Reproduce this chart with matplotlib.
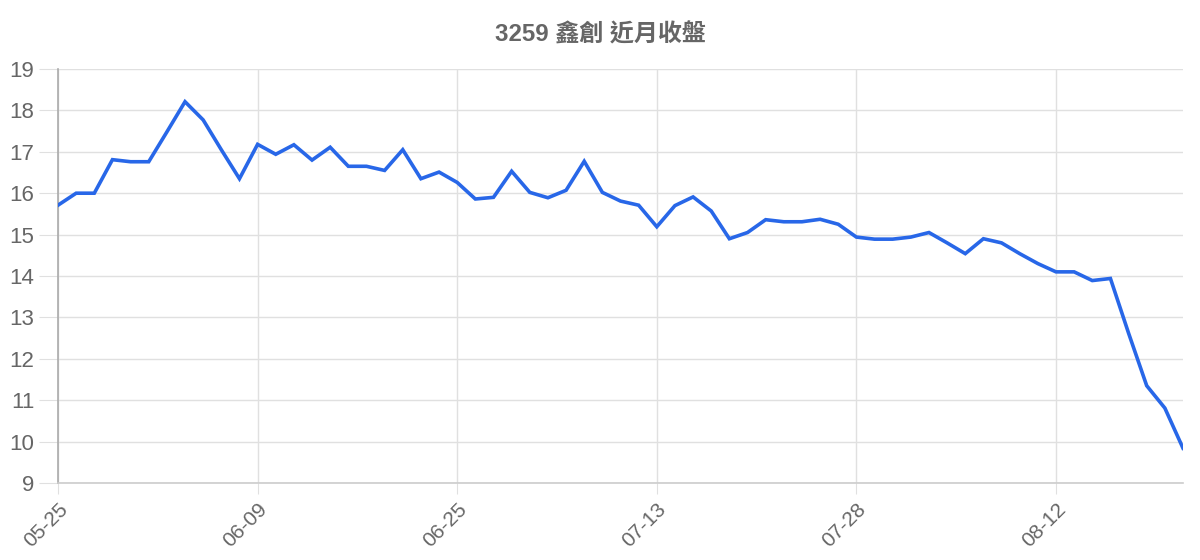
import matplotlib
matplotlib.use("Agg")
import matplotlib.pyplot as plt

title = "3259 鑫創 近月收盤"
close_prices = [
    15.71, 16.00, 16.00, 16.81, 16.76, 16.76, 17.48, 18.21, 17.77, 17.05,
    16.35, 17.18, 16.94, 17.17, 16.80, 17.11, 16.65, 16.65, 16.55, 17.05,
    16.35, 16.51, 16.26, 15.86, 15.90, 16.53, 16.02, 15.89, 16.07, 16.77,
    16.02, 15.81, 15.71, 15.19, 15.70, 15.91, 15.57, 14.90, 15.05, 15.36,
    15.31, 15.31, 15.37, 15.25, 14.94, 14.89, 14.89, 14.94, 15.05, 14.80,
    14.54, 14.90, 14.80, 14.54, 14.30, 14.10, 14.10, 13.89, 13.94, 12.62,
    11.35, 10.81, 9.84,
]
tick_labels = ["05-25", "06-09", "06-25", "07-13", "07-28", "08-12"]
tick_positions = [0, 11, 22, 33, 44, 55]
y_ticks = list(range(9, 20))

fig = plt.figure(figsize=(12, 5.6), dpi=100)
ax = fig.add_axes([58 / 1200, 1 - 483 / 560, (1183 - 58) / 1200, (483 - 69) / 560])

x = list(range(len(close_prices)))
ax.plot(x, close_prices, color="#2867e8", linewidth=2.6, solid_joinstyle="miter", zorder=3)

ax.set_xlim(0, len(close_prices) - 1)
ax.set_ylim(9, 19)
ax.set_yticks(y_ticks)
ax.set_xticks(tick_positions)
ax.set_xticklabels(tick_labels, rotation=45, ha="right", rotation_mode="anchor",
                   family="Liberation Sans", fontsize=15, color="#666666")
for lab in ax.get_yticklabels():
    lab.set_family("Liberation Sans")
    lab.set_fontsize(16)
    lab.set_color("#666666")

ax.grid(True, color="#e0e0e0", linewidth=1.0, zorder=0)
for s in ["top", "right"]:
    ax.spines[s].set_visible(False)
ax.spines["left"].set_color("#aaaaaa")
ax.spines["bottom"].set_color("#cccccc")
ax.spines["left"].set_linewidth(1.2)
ax.spines["bottom"].set_linewidth(1.2)
ax.tick_params(axis="y", length=14, color="#e0e0e0", pad=3)
ax.tick_params(axis="x", length=8, color="#e0e0e0", pad=4)

fig.text(600 / 1200, 1 - 35 / 560, title, ha="center", va="center",
         family=["Liberation Sans", "Noto Sans CJK TC"], fontweight="bold",
         fontsize=17.3, color="#666666")

fig.savefig("out.png", dpi=100, facecolor="white")
